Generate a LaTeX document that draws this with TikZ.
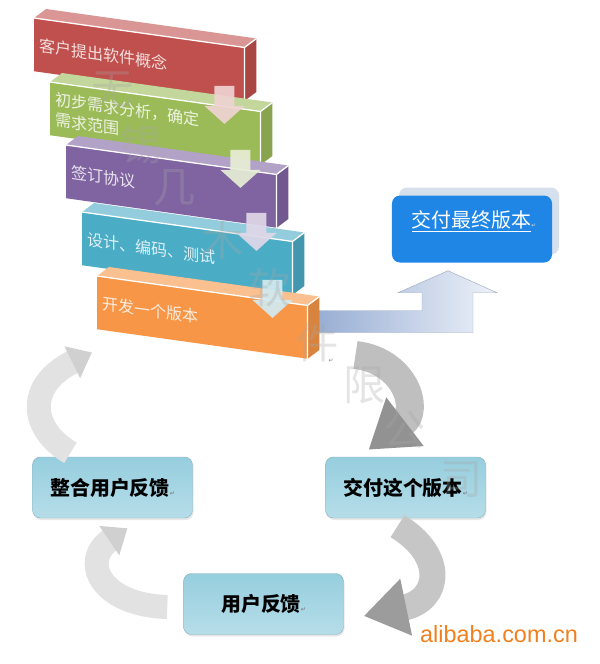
\documentclass[tikz,border=0pt]{standalone}
\usepackage{fontspec}
\newfontfamily\cjk{Noto Sans CJK SC}
\newfontfamily\symfont{DejaVu Sans}
\newfontfamily\webfont{Liberation Sans}
\usetikzlibrary{calc,arrows.meta,shadows}

\definecolor{stepred}{RGB}{192,80,77}
\definecolor{stepgreen}{RGB}{155,187,89}
\definecolor{steppurple}{RGB}{128,100,162}
\definecolor{stepblue}{RGB}{75,172,198}
\definecolor{steporange}{RGB}{247,150,70}
\definecolor{finalblue}{RGB}{31,134,230}
\definecolor{finalshadow}{RGB}{214,224,236}
\definecolor{cyctop}{RGB}{150,206,222}
\definecolor{cycmid}{RGB}{226,242,247}
\definecolor{cycbot}{RGB}{182,221,233}
\definecolor{cycedge}{RGB}{140,178,194}
\definecolor{arrowleft}{RGB}{152,174,212}
\definecolor{arrowright}{RGB}{238,242,249}
\definecolor{arrowedge}{RGB}{160,172,190}
\definecolor{loopgray}{RGB}{208,208,208}
\definecolor{looplight}{RGB}{226,226,226}
\definecolor{aliorange}{RGB}{240,128,30}

\tikzset{
  stepbox/.style={fill=#1, text=white!82!#1, anchor=north west, yslant=-0.14,
    minimum width=6.3cm, minimum height=1.59cm, inner xsep=0.15cm, text width=6cm,
    align=left, font=\cjk\fontsize{13.7}{17.5}\selectfont},
  finalbox/.style={fill=finalblue, rounded corners=0.24cm, minimum width=4.8cm,
    minimum height=2.01cm,
    general shadow={fill=finalshadow, shadow xshift=0.21cm, shadow yshift=0.24cm}},
  cyclebox/.style={rounded corners=0.24cm, minimum width=4.8cm, minimum height=1.83cm,
    top color=cyctop, middle color=cycmid, bottom color=cycbot, draw=cycedge,
    drop shadow={opacity=0.18, shadow xshift=0.03cm, shadow yshift=-0.06cm},
    font=\cjk\bfseries\fontsize{17}{20}\selectfont},
  retmark/.style={font=\symfont\fontsize{5}{5}\selectfont, text=gray, inner sep=0pt},
  watermark/.style={font=\cjk\fontsize{36}{36}\selectfont, text=gray!70, opacity=0.3},
  looparrow/.style={line width=#1, draw=loopgray}
}

\begin{document}
\begin{tikzpicture}[x=0.03cm, y=-0.03cm]
  \useasboundingbox (0,0) rectangle (600,664);

  % steps
  \node[stepbox=stepred] (s1) at (34,18) {客户提出软件概念};
  \node[stepbox=stepgreen] (s2) at (50,82) {初步需求分析，确定\\需求范围};
  \node[stepbox=steppurple] (s3) at (66,145) {签订协议};
  \node[stepbox=stepblue] (s4) at (82,212) {设计、编码、测试};

  % up arrow to the final version
  \node[finalbox] (final) at (472,229) {};
  \node[font=\cjk\fontsize{17}{20}\selectfont, text=white] (finaltxt) at ($(final)+(2,-8)$)
    {\underline{交付最终版本}{\symfont\fontsize{5}{5}\selectfont\color{white!70!gray}↵}};
  \coordinate (tip) at ($(final.south)+(-24,8)$);
  \path[left color=arrowleft, right color=arrowright, draw=arrowedge, line width=0.4pt]
    (tip) -- ++(49,22) -- ++(-24,0) -- ++(0,40) -- ++(-155,0) -- ++(0,-22)
    -- ++(104,0) -- ++(0,-18) -- ++(-24,0) -- cycle;

  \node[stepbox=steporange] (s5) at (97,276) {开发一个版本};

  % faces of the steps
  \foreach \s/\c in {s1/stepred, s2/stepgreen, s3/steppurple, s4/stepblue, s5/steporange} {
    \fill[\c!60!white] (\s.north west) -- ++(12,-9) -- ($(\s.north east)+(12,-9)$)
      -- (\s.north east) -- cycle;
    \fill[\c!88!black] (\s.north east) -- ++(12,-9) -- ($(\s.south east)+(12,-9)$)
      -- (\s.south east) -- cycle;
    \draw[white, line width=1.1pt] (\s.north west) -- (\s.north east) -- (\s.south east)
      (\s.north east) -- ++(12,-9);
  }

  % small arrows between the steps
  \foreach \s/\c in {s1/stepred, s2/stepgreen, s3/steppurple, s4/stepblue}
    \fill[white!75!\c, opacity=0.92] ($(\s.south east)+(-30,-15)$) -- ++(20,0) -- ++(0,20)
      -- ++(10,0) -- ++(-20,18) -- ++(-20,-18) -- ++(10,0) -- cycle;

  % cycle
  \node[cyclebox] (merge) at (112.5,487.5) {整合用户反馈{\symfont\fontsize{5}{5}\selectfont\color{gray}↵}};
  \node[cyclebox] (deliver) at (405.5,487.5) {交付这个版本{\symfont\fontsize{5}{5}\selectfont\color{gray}↵}};
  \node[cyclebox] (feedback) at (263.5,604) {用户反馈{\symfont\fontsize{5}{5}\selectfont\color{gray}↵}};

  \draw[looparrow=0.72cm, draw=looplight, -{Triangle[width=1.02cm, length=0.66cm, color=looplight!92!black]}]
    ($(merge.north)+(-42,-4)$) .. controls +(-40,-23) and +(-67,33) .. ($(s5.south west)+(-5,23)$);
  \draw[looparrow=0.84cm, draw=loopgray!92!black, -{Triangle[width=1.74cm, length=1.38cm, color=loopgray!70!black]}]
    ($(s5.south east)+(48,-4)$) .. controls +(50,6) and +(52,-40) .. ($(deliver.north)+(-37,-7)$);
  \draw[looparrow=0.78cm, draw=loopgray!95!black, -{Triangle[width=1.65cm, length=1.3cm, color=loopgray!75!black]}]
    ($(deliver.south)+(-8,8)$) .. controls +(48,29) and +(77,-16) .. ($(feedback.east)+(20,12)$);
  \draw[looparrow=0.72cm, draw=looplight, -{Triangle[width=1.02cm, length=0.66cm, color=looplight!92!black]}]
    ($(feedback.west)+(-16,3)$) .. controls +(-68,-2) and +(-47,32) .. ($(merge.south)+(15,10)$);

  \node[retmark] (stray) at (331,361) {↵};

  % watermark
  \foreach \ch/\x/\y [count=\i] in {无/113/90, 锡/142/145, 几/175/188, 木/223/240, 软/270/287,
      件/318/343, 限/365/385, 公/405/430, 司/462/480}
    \node[watermark] (wm\i) at (\x,\y) {\ch};

  \node[font=\webfont\fontsize{20}{20}\selectfont, text=aliorange] (ali) at (499,634) {alibaba.com.cn};
\end{tikzpicture}
\end{document}
